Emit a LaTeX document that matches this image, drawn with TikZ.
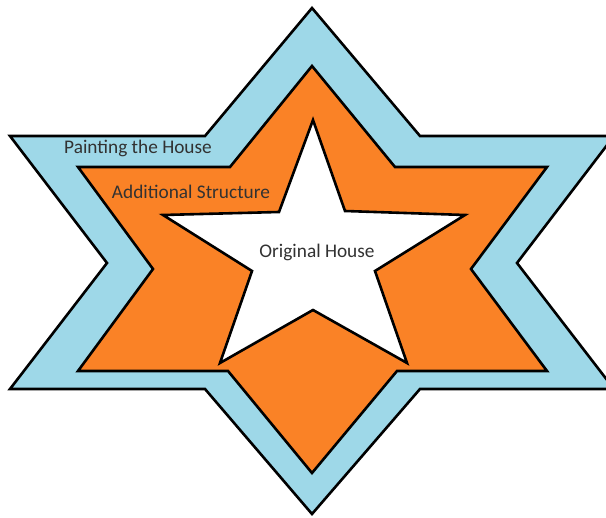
\documentclass[tikz,border=0pt]{standalone}
\usepackage{fontspec}
\setmainfont{Carlito}
\usetikzlibrary{positioning}

\definecolor{paintblue}{RGB}{158,216,232}
\definecolor{addorange}{RGB}{250,130,38}
\definecolor{labelgray}{RGB}{50,50,50}

\tikzset{
  layer/.style={draw=black,line width=2.6pt,line join=miter},
  label/.style={anchor=base,text=labelgray,font=\fontsize{19.3}{23}\selectfont,inner sep=0pt}
}

\begin{document}
\begin{tikzpicture}[x=1pt,y=-1pt]
  \useasboundingbox (0,0) rectangle (606,518);
  \clip (0,0) rectangle (606,518);
  % outer six-pointed star
  \draw[layer,fill=paintblue] (312,8) -- (420,136) -- (614,136) -- (517,263) -- (614,389) -- (420,389)
    -- (312,514) -- (205,389) -- (10,389) -- (107,263) -- (10,136) -- (205,136) -- cycle;
  % middle six-pointed star
  \draw[layer,fill=addorange] (312,66) -- (395,167) -- (547,167) -- (471,269) -- (547,371) -- (397,371)
    -- (312,473) -- (228,371) -- (78,371) -- (153,269) -- (78,167) -- (230,167) -- cycle;
  % inner five-pointed star
  \draw[layer,fill=white] (313,120) -- (345,211) -- (465,215) -- (375,271) -- (407,363) -- (313,310)
    -- (220,363) -- (252,271) -- (163,215) -- (279,212) -- cycle;
  \node[label] (paint) at (138,154) {Painting the House};
  \node[label] (addition) at (191,199) {Additional Structure};
  \node[label] (original) at (317,258) {Original House};
\end{tikzpicture}
\end{document}
